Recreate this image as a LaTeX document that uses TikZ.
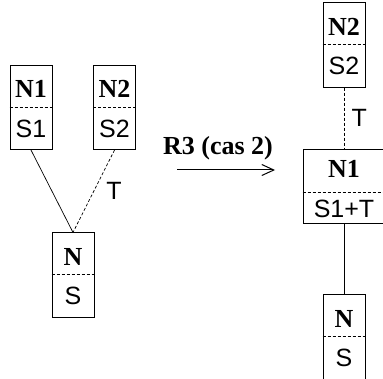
\documentclass[tikz,border=0pt]{standalone}
\usepackage{fontspec}
\setmainfont{Liberation Serif}
\setsansfont{Liberation Sans}
\usetikzlibrary{arrows.meta, shapes.multipart}

% partie haute (nom) et partie basse (contenu) d'un noeud
\newcommand\nom[2][9]{\rule[-#1pt]{0pt}{41pt}{\rmfamily\bfseries\fontsize{26}{28}\selectfont #2}}
\newcommand\sem[2][12]{\rule[-#1pt]{0pt}{42pt}#2}

\begin{document}
\begin{tikzpicture}[
    x = 1pt, y = 1pt,
    line width = 0.7pt,
    noeud/.style = {rectangle split, rectangle split parts=2, rectangle split draw splits=false, draw, inner xsep=2pt, inner ysep=0pt, minimum width=42pt, font=\sffamily\fontsize{25}{27}\selectfont},
    sep/.style = {dash pattern=on 3pt off 2pt},
    lien/.style = {dash pattern=on 3pt off 2pt},
    etiq/.style = {font=\sffamily\fontsize{25}{27}\selectfont},
    fleche/.style = {line width=1pt, -{Straight Barb[length=12pt, width=11pt]}},
]
    \useasboundingbox (0,0) rectangle (383,378);
    % avant la regle
    \node[noeud] (g1) at (31,270.5)  {\nom{N1}\nodepart{two}\sem{S1}};
    \node[noeud] (g2) at (114.5,270.5) {\nom{N2}\nodepart{two}\sem{S2}};
    \node[noeud] (g)  at (73,103)    {\nom{N}\nodepart{two}\sem{S}};
    % apres la regle
    \node[noeud] (d2) at (344,333)   {\nom{N2}\nodepart{two}\sem{S2}};
    \node[noeud, minimum width=82pt] (d1) at (344,191.5)
        {\rule[-14pt]{0pt}{42pt}{\rmfamily\bfseries\fontsize{26}{28}\selectfont N1}\nodepart{two}\rule[-6pt]{0pt}{31pt}S1+T};
    \node[noeud] (d)  at (344,41)    {\nom{N}\nodepart{two}\sem{S}};
    % separations en pointille
    \foreach \n in {g1, g2, g, d2, d1, d}
        \draw[sep] (\n.text split west) -- (\n.text split east);
    % liens
    \draw (g1.south) -- (g.north);
    \draw[lien] (g2.south) -- node[etiq, right=9pt] {T} (g.north);
    \draw[lien] (d2.south) -- node[etiq, right=4pt] {T} (d1.north);
    \draw (d1.south) -- (d.north);
    % regle
    \coordinate (depart) at (177,208);
    \coordinate (arrivee) at (275,208);
    \draw[fleche] (depart) -- node[above=6pt, xshift=-8pt, font=\bfseries\fontsize{26}{28}\selectfont] (regle) {R3 (cas 2)} (arrivee);
\end{tikzpicture}
\end{document}
